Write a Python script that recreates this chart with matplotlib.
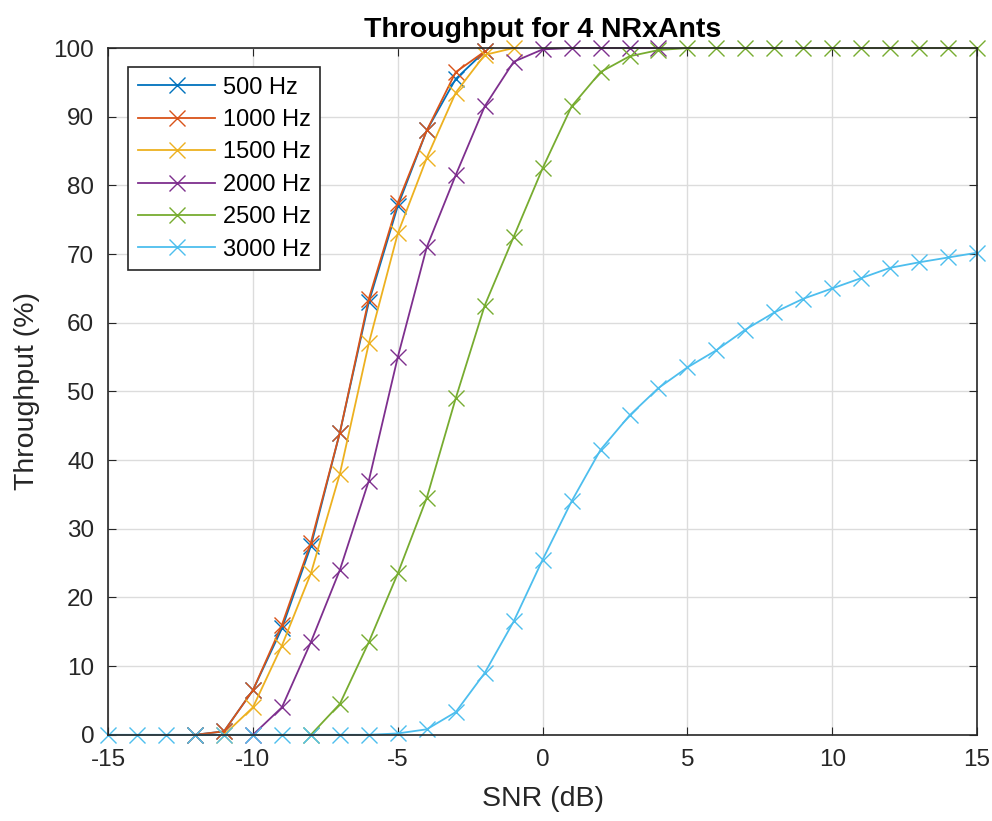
import matplotlib.pyplot as plt

plt.rcParams['font.family'] = ['Liberation Sans', 'DejaVu Sans']
plt.rcParams['axes.unicode_minus'] = False

# throughput data, one list per band
labels = ['500 Hz', '1000 Hz', '1500 Hz', '2000 Hz', '2500 Hz', '3000 Hz']
colors = ['#0072BD', '#D95319', '#EDB120', '#7E2F8E', '#77AC30', '#4DBEEE']

snr_500 = list(range(-12, -1))
tp_500 = [0, 0.5, 6.5, 15.5, 27.5, 44, 63, 77, 88, 95.5, 99.5]

snr_1000 = list(range(-12, -1))
tp_1000 = [0, 0.5, 6.5, 16, 28, 44, 63.5, 77.5, 88, 96.5, 99.5]

snr_1500 = list(range(-11, 0))
tp_1500 = [0, 4, 13, 23.5, 38, 57, 73, 84, 93.5, 99, 100]

snr_2000 = list(range(-10, 5))
tp_2000 = [0, 4, 13.5, 24, 37, 55, 71, 81.5, 91.5, 98, 99.8, 100, 100, 100, 100]

snr_2500 = list(range(-8, 16))
tp_2500 = [0, 4.5, 13.5, 23.5, 34.5, 49, 62.5, 72.5, 82.5, 91.5, 96.5, 98.8,
           99.7, 100, 100, 100, 100, 100, 100, 100, 100, 100, 100, 100]

snr_3000 = list(range(-15, 16))
tp_3000 = [0, 0, 0, 0, 0, 0, 0, 0, 0, 0, 0.2, 0.8, 3.3, 9, 16.5, 25.5, 34,
           41.5, 46.5, 50.5, 53.5, 56, 59, 61.5, 63.5, 65, 66.5, 68, 68.8,
           69.5, 70.2]

snrs = [snr_500, snr_1000, snr_1500, snr_2000, snr_2500, snr_3000]
tps = [tp_500, tp_1000, tp_1500, tp_2000, tp_2500, tp_3000]

fig = plt.figure(figsize=(9.92, 8.21), dpi=100)
ax = fig.add_axes([0.109, 0.105, 0.876, 0.8365])

for x, y, lab, c in zip(snrs, tps, labels, colors):
    ax.plot(x, y, color=c, marker='x', markersize=11, markeredgewidth=1.0,
            linewidth=1.3, label=lab, clip_on=False)

ax.set_xlim(-15, 15)
ax.set_ylim(0, 100)
ax.set_xticks(range(-15, 16, 5))
ax.set_yticks(range(0, 101, 10))
ax.tick_params(direction='in', labelsize=17.5, colors='#262626', length=6, pad=10)
ax.tick_params(top=True, right=True)
ax.grid(True, color='#DCDCDC', linewidth=1.0)
ax.set_axisbelow(True)
for s in ax.spines.values():
    s.set_color('#262626')
    s.set_linewidth(1.2)

ax.set_xlabel('SNR (dB)', fontsize=20.5, color='#262626', labelpad=11)
ax.set_ylabel('Throughput (%)', fontsize=20.5, color='#262626', labelpad=10)
ax.set_title('Throughput for 4 NRxAnts', fontsize=20.5, fontweight='bold', pad=8)

leg = ax.legend(loc='upper left', bbox_to_anchor=(0.023, 0.972), fontsize=17,
                handlelength=3.3, fancybox=False, edgecolor='#262626',
                framealpha=1, borderpad=0.4, labelspacing=0.44,
                handletextpad=0.3, borderaxespad=0)
leg.get_frame().set_linewidth(1.2)

fig.savefig('out.png', dpi=100)
